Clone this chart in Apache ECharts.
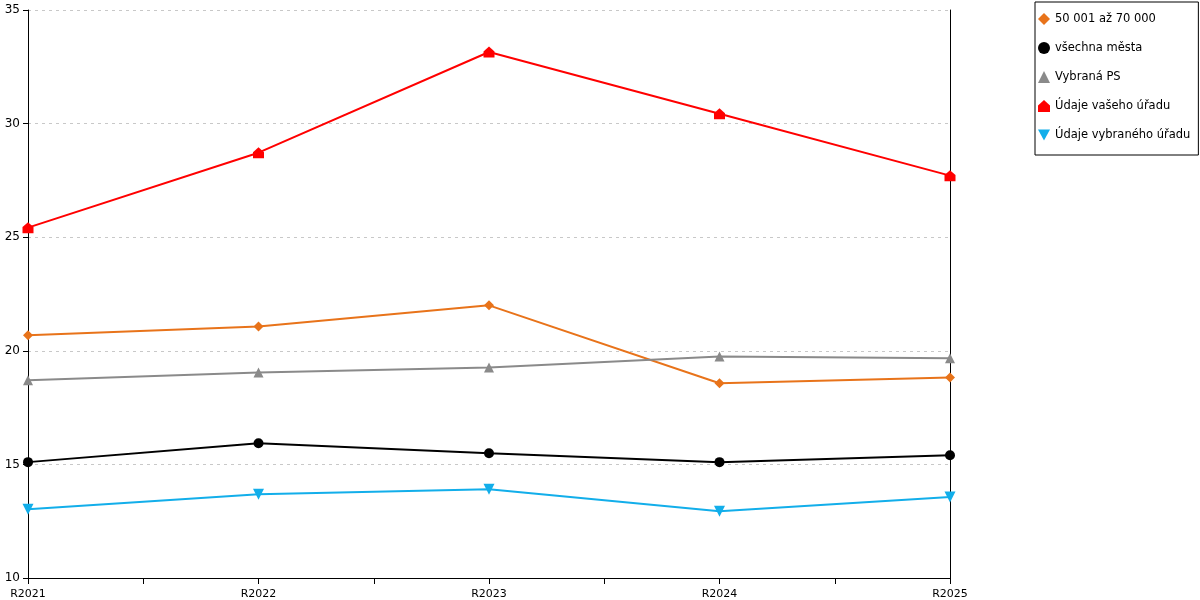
<!DOCTYPE html>
<html>
<head>
<meta charset="utf-8">
<script src="https://cdn.jsdelivr.net/npm/echarts@6/dist/echarts.min.js"></script>
<style>
  html, body { margin: 0; padding: 0; background: #fff; }
  #main { width: 1200px; height: 600px; }
</style>
</head>
<body>
<div id="main"></div>
<script>
// roky na ose x
let categories = ['R2021', 'R2022', 'R2023', 'R2024', 'R2025']
let seriesNames = ['50 001 až 70 000', 'všechna města', 'Vybraná PS', 'Údaje vašeho úřadu', 'Údaje vybraného úřadu']
let velikostniSkupina = [20.68, 21.07, 22.0, 18.57, 18.83]
let vsechnaMesta = [15.10, 15.93, 15.49, 15.10, 15.40]
let vybranaPS = [18.70, 19.05, 19.27, 19.75, 19.67]
let vasUrad = [25.42, 28.72, 33.15, 30.43, 27.71]
let vybranyUrad = [13.03, 13.69, 13.91, 12.94, 13.56]
let yTicks = [10, 15, 20, 25, 30, 35]

let myChart = echarts.init(document.getElementById('main'))

let house = 'path://M5,0 L10,4.5 L10,10 L0,10 L0,4.5 Z'
let downTri = 'path://M0,0 L10,0 L5,9 Z'
let symbols = ['diamond', 'circle', 'triangle', house, downTri]
let colors = ['#E8731A', '#000000', '#8A8A8A', '#FF0000', '#12AEEA']

function mkSeries (idx, values, size) {
  return {
    name: seriesNames[idx],
    type: 'line',
    data: values.map(function (v, i) { return [i, v] }),
    symbol: symbols[idx],
    symbolSize: size,
    showAllSymbol: true,
    lineStyle: { color: colors[idx], width: 2 },
    itemStyle: { color: colors[idx] },
    emphasis: { disabled: true },
    animation: false
  }
}

let option = {
  backgroundColor: '#fff',
  textStyle: { fontFamily: 'DejaVu Sans' },
  grid: { left: 28, right: 250, top: 10, bottom: 21 },
  legend: {
    orient: 'vertical',
    left: 1035,
    top: 2,
    padding: [11, 8, 14, 3],
    itemGap: 17,
    itemWidth: 12,
    itemHeight: 12,
    borderColor: '#000',
    borderWidth: 1,
    backgroundColor: '#fff',
    textStyle: { fontSize: 11.5, color: '#000', fontFamily: 'DejaVu Sans' },
    data: seriesNames.map(function (n, i) { return { name: n, icon: symbols[i] } })
  },
  xAxis: {
    type: 'value',
    min: 0,
    max: categories.length - 1,
    interval: 0.5,
    axisLine: { show: true, lineStyle: { color: '#000', width: 1 } },
    axisTick: { show: true, length: 6, lineStyle: { color: '#000' } },
    splitLine: { show: false },
    axisLabel: {
      color: '#000',
      fontSize: 11,
      margin: 11,
      formatter: function (v) {
        return Number.isInteger(v) ? categories[v] : ''
      }
    }
  },
  yAxis: [{
    type: 'value',
    min: yTicks[0],
    max: yTicks[yTicks.length - 1],
    interval: 5,
    axisLine: { show: true, lineStyle: { color: '#000', width: 1 } },
    axisTick: { show: true, length: 5, lineStyle: { color: '#000' } },
    axisLabel: { color: '#000', fontSize: 12, margin: 8 },
    splitLine: { show: true, lineStyle: { color: '#c8c8c8', type: [3, 4] } }
  }, {
    type: 'value',
    position: 'right',
    min: yTicks[0],
    max: yTicks[yTicks.length - 1],
    interval: 5,
    axisLine: { show: true, lineStyle: { color: '#000', width: 1 } },
    axisTick: { show: false },
    axisLabel: { show: false },
    splitLine: { show: false }
  }],
  series: [
    mkSeries(0, velikostniSkupina, 10),
    mkSeries(1, vsechnaMesta, 10),
    mkSeries(2, vybranaPS, 10),
    mkSeries(3, vasUrad, 11),
    mkSeries(4, vybranyUrad, 11)
  ]
}
myChart.setOption(option)
</script>
</body>
</html>
